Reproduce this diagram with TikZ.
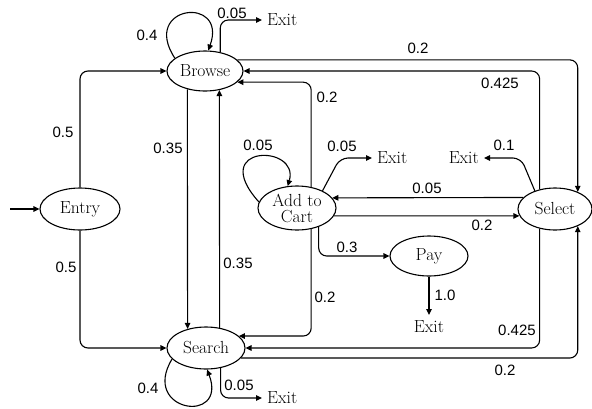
\documentclass[tikz,border=0pt]{standalone}
\usepackage{fontspec}
\newfontfamily\lblfont{Liberation Sans}
\usetikzlibrary{arrows.meta,shapes.geometric}
\begin{document}
\begin{tikzpicture}[x=1pt,y=-1pt,
  state/.style={draw, ellipse, line width=1.1pt, inner sep=0pt, align=center,
    font=\fontsize{17.5}{16}\selectfont},
  arr/.style={-{Triangle[length=6pt,width=5.5pt]}, line width=1.1pt, rounded corners=8pt},
  lbl/.style={font=\lblfont\fontsize{15}{15}\selectfont, inner sep=0pt},
  exitn/.style={font=\fontsize{17.5}{16}\selectfont, inner sep=5pt}]
\useasboundingbox (0,0) rectangle (592,408);

% states
\node[state, minimum width=76pt, minimum height=40pt] (browse) at (205,71) {Browse};
\node[state, minimum width=80pt, minimum height=42pt] (entry) at (80,209) {Entry};
\node[state, minimum width=78pt, minimum height=42pt] (search) at (206,348) {Search};
\node[state, minimum width=78pt, minimum height=44pt] (cart) at (297,208) {Add to\\Cart};
\node[state, minimum width=74pt, minimum height=42pt] (select) at (555,209) {Select};
\node[state, minimum width=78pt, minimum height=40pt] (pay) at (429,256) {Pay};

% exits
\node[exitn, anchor=west] (exitb) at (262,20) {Exit};
\node[exitn, anchor=west] (exits) at (262,398) {Exit};
\node[exitn, anchor=west] (exitc) at (372,158) {Exit};
\node[exitn, anchor=east] (exitsel) at (484,158) {Exit};
\node[exitn, anchor=north] (exitp) at (429,315) {Exit};

\coordinate (start) at (10,209);

% edges
\draw[arr] (start) -- (entry.west);
\draw[arr] (entry.north) |- (browse.west);
\draw[arr] (entry.south) |- (search.west);

\draw[arr] (browse.157) .. controls (140,5) and (228,-5) .. (browse.81);
\draw[arr] (browse.51) |- (exitb.west);
\draw[arr] (browse.226.5) -- (search.134);
\draw[arr] (search.56.7) -- (browse.-53);
\draw[arr] (browse.19) -| (select.37.5);
\draw[arr] (select.128) |- (browse.0);
\draw[arr] (cart.56) |- (browse.-19);

\draw[arr] (search.198) .. controls (140,412) and (228,425) .. (search.-87);
\draw[arr] (search.-54.5) |- (exits.west);
\draw[arr] (cart.-56) |- (search.20.6);
\draw[arr] (select.232) |- (search.0);
\draw[arr] (search.-16.3) -| (select.-37.5);

\draw[arr] (cart.171) .. controls (207,144) and (300,144) .. (cart.113);
\draw[arr] (cart.34) -- ([xshift=-32pt]exitc.west) -- (exitc.west);
\draw[arr] (select.138.5) -- ([xshift=37pt]exitsel.east) -- (exitsel.east);
\draw[arr] (select.160.7) -- (cart.16.1);
\draw[arr] (cart.-12.4) -- (select.191.3);
\draw[arr] (cart.-41.4) |- (pay.west);
\draw[arr] (pay.south) -- (exitp.north);

% labels
\node[lbl] (l1) at (63,132) {0.5};
\node[lbl] (l2) at (66,267) {0.5};
\node[lbl] (l3) at (147,35) {0.4};
\node[lbl] (l4) at (232,13) {0.05};
\node[lbl] (l5) at (168,148) {0.35};
\node[lbl] (l6) at (238,263) {0.35};
\node[lbl] (l7) at (418,48) {0.2};
\node[lbl] (l8) at (500,83) {0.425};
\node[lbl] (l9) at (327,97) {0.2};
\node[lbl] (l10) at (258,145) {0.05};
\node[lbl] (l11) at (342,146) {0.05};
\node[lbl] (l12) at (504,145) {0.1};
\node[lbl] (l13) at (427,188) {0.05};
\node[lbl] (l14) at (482,225) {0.2};
\node[lbl] (l15) at (347,247) {0.3};
\node[lbl] (l16) at (325,297) {0.2};
\node[lbl] (l17) at (445,295) {1.0};
\node[lbl] (l18) at (517,330) {0.425};
\node[lbl] (l19) at (505,370) {0.2};
\node[lbl] (l20) at (148,388) {0.4};
\node[lbl] (l21) at (239,385) {0.05};
\end{tikzpicture}
\end{document}
